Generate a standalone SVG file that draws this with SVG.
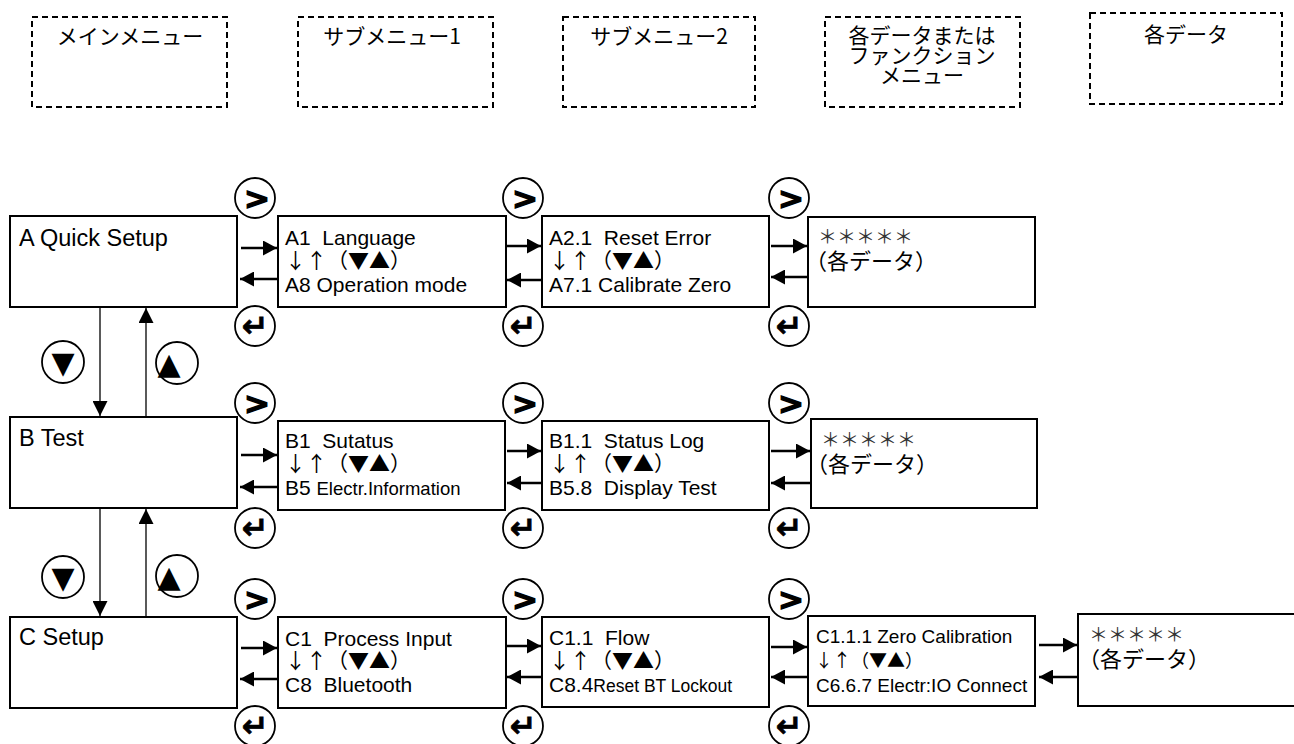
<svg xmlns="http://www.w3.org/2000/svg" width="1294" height="744" viewBox="0 0 1294 744">
<defs>
<style>
.box{fill:#fff;stroke:#000;stroke-width:2}
.dbox{fill:none;stroke:#000;stroke-width:2;stroke-dasharray:6 4}
.circ{fill:#fff;stroke:#000;stroke-width:1.8}
.t{font-family:"Liberation Sans","Noto Sans CJK JP",sans-serif;fill:#000;white-space:pre}
.j{font-family:"Noto Sans CJK JP","Liberation Sans",sans-serif;fill:#000;white-space:pre}
.m{font-size:23.5px}
.s{font-size:21px}
.xs{font-size:17.5px}
.s19{font-size:19px}
.h{font-size:21px;text-anchor:middle}
.ast{font-size:19px;fill:#333}
.dat{font-size:22px}
.gt{font-family:"DejaVu Sans",sans-serif;font-weight:bold;font-size:31px;text-anchor:middle;stroke:#000;stroke-width:1.4}
.rt{font-family:"DejaVu Sans",sans-serif;font-weight:bold;font-size:32px;text-anchor:middle;stroke:#000;stroke-width:0.6}
.tri{font-family:"DejaVu Sans",sans-serif;font-size:30px;text-anchor:middle}
.h2{fill:none;stroke:#000;stroke-width:2.3}
.v{fill:none;stroke:#000;stroke-width:1.3}
</style>
<marker id="ah" markerUnits="userSpaceOnUse" markerWidth="14" markerHeight="15" refX="14" refY="7.5" orient="auto"><path d="M0,0 L14,7.5 L0,15 z" fill="#000"/></marker>
<marker id="av" markerUnits="userSpaceOnUse" markerWidth="15" markerHeight="15" refX="15" refY="7.5" orient="auto"><path d="M0,0 L15,7.5 L0,15 z" fill="#000"/></marker>
</defs>
<rect width="1294" height="744" fill="#fff"/>

<g id="header">
<g id="h1"><rect class="dbox" x="32" y="17" width="195" height="90"/><text class="j h" x="130" y="44">メインメニュー</text></g>
<g id="h2"><rect class="dbox" x="298" y="17" width="195" height="90"/><text class="j h" x="392" y="44">サブメニュー1</text></g>
<g id="h3"><rect class="dbox" x="563" y="17" width="192" height="90"/><text class="j h" x="659" y="44">サブメニュー2</text></g>
<g id="h4"><rect class="dbox" x="825" y="17" width="195" height="90"/><text class="j h" x="922" y="43">各データまたは<tspan x="922" y="63">ファンクション</tspan><tspan x="922" y="83">メニュー</tspan></text></g>
<g id="h5"><rect class="dbox" x="1090" y="13" width="192" height="91"/><text class="j h" x="1186" y="42">各データ</text></g>
</g>

<g id="connectors">
<line class="h2" x1="241" y1="248" x2="277" y2="248" marker-end="url(#ah)"/>
<line class="h2" x1="277" y1="279" x2="240" y2="279" marker-end="url(#ah)"/>
<line class="h2" x1="507" y1="246" x2="541" y2="246" marker-end="url(#ah)"/>
<line class="h2" x1="541" y1="280" x2="507" y2="280" marker-end="url(#ah)"/>
<line class="h2" x1="771" y1="246" x2="807" y2="246" marker-end="url(#ah)"/>
<line class="h2" x1="807" y1="277" x2="771" y2="277" marker-end="url(#ah)"/>

<line class="h2" x1="241" y1="455" x2="277" y2="455" marker-end="url(#ah)"/>
<line class="h2" x1="277" y1="487" x2="240" y2="487" marker-end="url(#ah)"/>
<line class="h2" x1="507" y1="451" x2="541" y2="451" marker-end="url(#ah)"/>
<line class="h2" x1="541" y1="483" x2="507" y2="483" marker-end="url(#ah)"/>
<line class="h2" x1="771" y1="451" x2="810" y2="451" marker-end="url(#ah)"/>
<line class="h2" x1="810" y1="483" x2="771" y2="483" marker-end="url(#ah)"/>

<line class="h2" x1="241" y1="648" x2="277" y2="648" marker-end="url(#ah)"/>
<line class="h2" x1="277" y1="679" x2="240" y2="679" marker-end="url(#ah)"/>
<line class="h2" x1="507" y1="646" x2="541" y2="646" marker-end="url(#ah)"/>
<line class="h2" x1="541" y1="677" x2="507" y2="677" marker-end="url(#ah)"/>
<line class="h2" x1="771" y1="647" x2="807" y2="647" marker-end="url(#ah)"/>
<line class="h2" x1="807" y1="677" x2="771" y2="677" marker-end="url(#ah)"/>
<line class="h2" x1="1039" y1="645" x2="1077" y2="645" marker-end="url(#ah)"/>
<line class="h2" x1="1077" y1="677" x2="1039" y2="677" marker-end="url(#ah)"/>

<line class="v" x1="100" y1="307" x2="100" y2="416" marker-end="url(#av)"/>
<line class="v" x1="146" y1="416" x2="146" y2="308" marker-end="url(#av)"/>
<line class="v" x1="100" y1="508" x2="100" y2="616" marker-end="url(#av)"/>
<line class="v" x1="146" y1="616" x2="146" y2="509" marker-end="url(#av)"/>
</g>

<g id="A">
<rect class="box" x="10" y="216" width="227" height="91"/>
<text class="t m" x="19" y="246">A Quick Setup</text>
</g>
<g id="A1">
<rect class="box" x="278" y="216" width="228" height="91"/>
<text class="t s" x="285" y="245">A1  Language<tspan class="j" x="285" y="268">↓↑（▼▲）</tspan><tspan x="285" y="292">A8 Operation mode</tspan></text>
</g>
<g id="A2">
<rect class="box" x="542" y="216" width="227" height="91"/>
<text class="t s" x="549" y="245">A2.1  Reset Error<tspan class="j" x="549" y="268">↓↑（▼▲）</tspan><tspan x="549" y="292">A7.1 Calibrate Zero</tspan></text>
</g>
<g id="A3">
<rect class="box" x="808" y="217" width="227" height="90"/>
<text class="j ast" x="818" y="244">＊＊＊＊＊<tspan class="dat" style="fill:#000" x="805" y="269">（各データ）</tspan></text>
</g>

<g id="B">
<rect class="box" x="10" y="417" width="227" height="91"/>
<text class="t m" x="19" y="446">B Test</text>
</g>
<g id="B1">
<rect class="box" x="278" y="421" width="227" height="89"/>
<text class="t s" x="285" y="448">B1  Sutatus<tspan class="j" x="285" y="471">↓↑（▼▲）</tspan><tspan x="285" y="495">B5 </tspan><tspan style="font-size:18.5px">Electr.Information</tspan></text>
</g>
<g id="B2">
<rect class="box" x="542" y="421" width="227" height="89"/>
<text class="t s" x="549" y="448">B1.1  Status Log<tspan class="j" x="549" y="471">↓↑（▼▲）</tspan><tspan x="549" y="495">B5.8  Display Test</tspan></text>
</g>
<g id="B3">
<rect class="box" x="811" y="419" width="226" height="89"/>
<text class="j ast" x="821" y="447">＊＊＊＊＊<tspan class="dat" style="fill:#000" x="806" y="472">（各データ）</tspan></text>
</g>

<g id="C">
<rect class="box" x="10" y="617" width="227" height="91"/>
<text class="t m" x="19" y="645">C Setup</text>
</g>
<g id="C1">
<rect class="box" x="278" y="617" width="228" height="91"/>
<text class="t s" x="285" y="646">C1  Process Input<tspan class="j" x="285" y="668">↓↑（▼▲）</tspan><tspan x="285" y="692">C8  Bluetooth</tspan></text>
</g>
<g id="C2">
<rect class="box" x="542" y="617" width="227" height="90"/>
<text class="t s" x="549" y="645">C1.1  Flow<tspan class="j" x="549" y="668">↓↑（▼▲）</tspan><tspan x="549" y="692">C8.4</tspan><tspan class="xs">Reset BT Lockout</tspan></text>
</g>
<g id="C3">
<rect class="box" x="808" y="616" width="227" height="90"/>
<text class="t s19" x="816" y="643">C1.1.1 Zero Calibration<tspan class="j" style="font-size:18px" x="815" y="667">↓↑（▼▲）</tspan><tspan x="816" y="692">C6.6.7 Electr:IO Connect</tspan></text>
</g>
<g id="C4">
<rect class="box" x="1078" y="614" width="230" height="92"/>
<text class="j ast" x="1089" y="642">＊＊＊＊＊<tspan class="dat" style="fill:#000" x="1078" y="667">（各データ）</tspan></text>
</g>

<g id="buttons">
<g id="btnA1"><circle class="circ" cx="255" cy="198" r="20"/><text class="gt" x="257" y="209">&gt;</text></g>
<g id="btnA2"><circle class="circ" cx="523" cy="198" r="20"/><text class="gt" x="525" y="209">&gt;</text></g>
<g id="btnA3"><circle class="circ" cx="789" cy="198" r="20"/><text class="gt" x="791" y="209">&gt;</text></g>
<g id="retA1"><circle class="circ" cx="255" cy="326" r="20"/><text class="rt" x="255" y="337">↵</text></g>
<g id="retA2"><circle class="circ" cx="523" cy="326" r="20"/><text class="rt" x="523" y="337">↵</text></g>
<g id="retA3"><circle class="circ" cx="789" cy="326" r="20"/><text class="rt" x="789" y="337">↵</text></g>

<g id="btnB1"><circle class="circ" cx="255" cy="403" r="20"/><text class="gt" x="257" y="414">&gt;</text></g>
<g id="btnB2"><circle class="circ" cx="523" cy="403" r="20"/><text class="gt" x="525" y="414">&gt;</text></g>
<g id="btnB3"><circle class="circ" cx="789" cy="403" r="20"/><text class="gt" x="791" y="414">&gt;</text></g>
<g id="retB1"><circle class="circ" cx="255" cy="528" r="20"/><text class="rt" x="255" y="539">↵</text></g>
<g id="retB2"><circle class="circ" cx="523" cy="528" r="20"/><text class="rt" x="523" y="539">↵</text></g>
<g id="retB3"><circle class="circ" cx="789" cy="528" r="20"/><text class="rt" x="789" y="539">↵</text></g>

<g id="btnC1"><circle class="circ" cx="255" cy="599" r="20"/><text class="gt" x="257" y="610">&gt;</text></g>
<g id="btnC2"><circle class="circ" cx="523" cy="599" r="20"/><text class="gt" x="525" y="610">&gt;</text></g>
<g id="btnC3"><circle class="circ" cx="789" cy="599" r="20"/><text class="gt" x="791" y="610">&gt;</text></g>
<g id="retC1"><circle class="circ" cx="255" cy="726" r="20"/><text class="rt" x="255" y="737">↵</text></g>
<g id="retC2"><circle class="circ" cx="523" cy="726" r="20"/><text class="rt" x="523" y="737">↵</text></g>
<g id="retC3"><circle class="circ" cx="789" cy="726" r="20"/><text class="rt" x="789" y="737">↵</text></g>

<g id="dnAB"><circle class="circ" cx="63" cy="362" r="21"/><text class="tri" x="63" y="373">▼</text></g>
<g id="upAB"><circle class="circ" cx="177" cy="363" r="21"/><text class="tri" x="169" y="374">▲</text></g>
<g id="dnBC"><circle class="circ" cx="63" cy="577" r="21"/><text class="tri" x="63" y="588">▼</text></g>
<g id="upBC"><circle class="circ" cx="177" cy="576" r="21"/><text class="tri" x="169" y="587">▲</text></g>
</g>
</svg>
